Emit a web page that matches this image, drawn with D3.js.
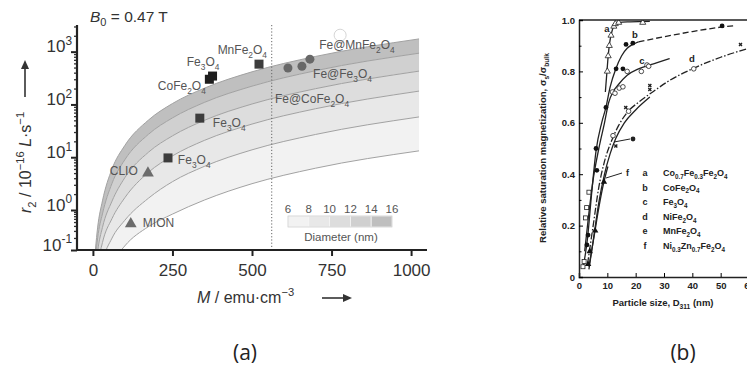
<!DOCTYPE html>
<html>
<head>
<meta charset="utf-8">
<script src="https://cdn.jsdelivr.net/npm/d3@7"></script>
<style>
  body { margin: 0; background: #fff; }
  svg { font-family: "Liberation Sans", Arial, sans-serif; }
</style>
</head>
<body>
<svg id="chart" width="747" height="372"></svg>
<script>
// ---- panel (a): r2 vs M, bands of particle diameter ----
const massM = [8, 15, 30, 60, 100, 175, 250, 350, 500, 700, 1025];
const diameters = [6, 8, 10, 12, 14, 16];
// r2 at massM (bottom curve = 6 nm)
const r2d6  = [0.0008, 0.0028, 0.0113, 0.045, 0.126, 0.386, 0.79, 1.54, 3.15, 6.2, 13.2];
const r2d8  = [0.0035, 0.0124, 0.05, 0.198, 0.55, 1.68, 3.44, 6.7, 13.8, 27, 58];
const r2d10 = [0.011, 0.038, 0.153, 0.61, 1.7, 5.2, 10.6, 20.8, 42.5, 83, 179];
const r2d12 = [0.026, 0.092, 0.366, 1.47, 4.07, 12.5, 25.4, 49.9, 102, 199, 428];
const r2d14 = [0.057, 0.2, 0.8, 3.2, 8.9, 27.3, 55.6, 109, 222, 436, 935];
const r2d16 = [0.106, 0.374, 1.49, 5.98, 16.6, 50.8, 104, 203, 415, 813, 1744];
const r2Curves = [r2d6, r2d8, r2d10, r2d12, r2d14, r2d16];
const bandColors = ['#f2f2f2', '#e8e8e8', '#dddddd', '#d0d0d0', '#bfbfbf'];

const squarePts = [
  { M: 522, r2: 580, fill: '#3c3c3c' },
  { M: 376, r2: 345, fill: '#1e1e1e' },
  { M: 366, r2: 300, fill: '#1e1e1e' },
  { M: 336, r2: 55, fill: '#3c3c3c' },
  { M: 236, r2: 9.7, fill: '#3c3c3c' }
];
const trianglePts = [{ M: 173, r2: 5.0 }, { M: 119, r2: 0.45 }];
const circlePts = [{ M: 613, r2: 490 }, { M: 657, r2: 530 }, { M: 682, r2: 720 }];
const hollowPt = { M: 777, r2: 2050 };
const dottedM = 562;

const labelsA = [
  { t: 'MnFe_{2}O_{4}', M: 392, r2: 900 },
  { t: 'Fe_{3}O_{4}', M: 295, r2: 535 },
  { t: 'CoFe_{2}O_{4}', M: 204, r2: 188 },
  { t: 'Fe_{3}O_{4}', M: 377, r2: 37 },
  { t: 'Fe_{3}O_{4}', M: 267, r2: 7.4 },
  { t: 'CLIO', M: 53, r2: 4.6 },
  { t: 'MION', M: 157, r2: 0.376 },
  { t: 'Fe@MnFe_{2}O_{4}', M: 711, r2: 1120 },
  { t: 'Fe@Fe_{3}O_{4}', M: 692, r2: 316 },
  { t: 'Fe@CoFe_{2}O_{4}', M: 572, r2: 106 }
];

const xTicksA = [0, 250, 500, 750, 1000];
const yTicksA = [0.1, 1, 10, 100, 1000];
const yExpA = ['-1', '0', '1', '2', '3'];

// ---- panel (b): relative saturation magnetization vs size ----
const curveA = [[9.3, 0.72], [9.8, 0.79], [10.3, 0.86], [10.8, 0.91], [11.5, 0.95], [12.5, 0.98], [14, 0.99], [18, 0.993], [25, 0.995]];
const curveB = [[1.5, 0.04], [3, 0.15], [4.5, 0.33], [6, 0.49], [8, 0.6], [9.5, 0.66], [11, 0.74], [13, 0.81], [15, 0.86], [17, 0.89], [19, 0.905], [21, 0.915]];
const curveBdash = [[21, 0.915], [30, 0.935], [40, 0.955], [50, 0.972], [55, 0.978]];
const curveC = [[2, 0.1], [3.5, 0.25], [5, 0.38], [7, 0.5], [9, 0.6], [10.5, 0.68], [12, 0.72], [14, 0.75], [17, 0.785], [21, 0.81], [25, 0.825], [32, 0.85]];
const curveD = [[3, 0.05], [5, 0.2], [7, 0.35], [9, 0.45], [11.5, 0.53], [14, 0.59], [17, 0.64], [21, 0.68], [26, 0.72], [32, 0.765], [40, 0.81], [50, 0.855], [60, 0.89]];
const curveE = [[3.5, 0.03], [5, 0.14], [7, 0.29], [9, 0.4], [11, 0.48], [13, 0.54], [16, 0.6], [20, 0.65], [25, 0.7]];
const curveF = [[3.5, 0.04], [5.5, 0.17], [7, 0.27], [8.8, 0.37], [10.2, 0.43]];

const openTri = [[10, 0.80], [10.3, 0.86], [10.7, 0.90], [11.3, 0.94], [12.3, 0.975], [12.8, 0.985], [14, 0.99], [22.5, 0.99]];
const filledDot = [[6, 0.5], [9.5, 0.66], [13.1, 0.81], [15.5, 0.81], [16.6, 0.905], [19, 0.91], [50.5, 0.977], [6.3, 0.415], [3.2, 0.163], [2.8, 0.125]];
const openDot = [[11.8, 0.72], [12.7, 0.715], [14.2, 0.735], [15.5, 0.74], [17, 0.80], [22, 0.80], [24, 0.825], [24.6, 0.82], [17.5, 0.645], [40.5, 0.81], [12, 0.55]];
const openSq = [[1.8, 0.06], [2.3, 0.23], [2.7, 0.27], [3.5, 0.33], [1.4, 0.04]];
const filledTri = [[3.8, 0.1], [5.7, 0.18], [8.8, 0.37], [3.2, 0.05]];
const crosses = [[16.5, 0.66], [25, 0.745], [25, 0.73], [57, 0.905], [13, 0.51]];
const curveLetters = [['a', 607, 29], ['b', 635, 35], ['c', 642, 61], ['d', 692, 59]];

const legendKeys = ['a', 'b', 'c', 'd', 'e', 'f'];
const legendNames = ['Co_{0.7}Fe_{0.3}Fe_{2}O_{4}', 'CoFe_{2}O_{4}', 'Fe_{3}O_{4}', 'NiFe_{2}O_{4}', 'MnFe_{2}O_{4}', 'Ni_{0.3}Zn_{0.7}Fe_{2}O_{4}'];

const xTicksB = [0, 10, 20, 30, 40, 50, 60];
const yTicksB = [0, 0.2, 0.4, 0.6, 0.8, 1.0];

// text with _{sub} and ^{sup}
function rich(sel, str, size) {
  const parts = str.split(/([_^]\{[^}]*\})/).filter(s => s);
  let shift = 0;
  parts.forEach(p => {
    const m = p.match(/^([_^])\{(.*)\}$/);
    if (m) {
      const d = m[1] === '_' ? size * 0.3 : -size * 0.42;
      sel.append('tspan').attr('dy', d - shift).attr('font-size', size * 0.7).text(m[2]);
      shift = d;
    } else {
      sel.append('tspan').attr('dy', -shift).text(p);
      shift = 0;
    }
  });
  return sel;
}

const svg = d3.select('#chart');

// ================= panel (a) =================
const x = d3.scaleLinear().domain([-50, 1050]).range([77, 427]);
const y = d3.scaleLog().domain([0.1, 1, 3200]).range([250, 210, 25]);

svg.append('clipPath').attr('id', 'clipA')
  .append('rect').attr('x', 78).attr('y', 25).attr('width', 349).attr('height', 224);

const plotA = svg.append('g').attr('clip-path', 'url(#clipA)');

// shaded bands between diameter curves
for (let i = 0; i < bandColors.length; i++) {
  const area = d3.area()
    .x((d, j) => x(massM[j]))
    .y0((d, j) => y(r2Curves[i][j]))
    .y1((d, j) => y(r2Curves[i + 1][j]))
    .curve(d3.curveMonotoneX);
  plotA.append('path').attr('d', area(massM)).attr('fill', bandColors[i]);
}
const line = d3.line().x((d, j) => x(massM[j])).y(d => y(d)).curve(d3.curveMonotoneX);
r2Curves.forEach(c => {
  plotA.append('path').attr('d', line(c)).attr('fill', 'none')
    .attr('stroke', '#a2a2a2').attr('stroke-width', 1);
});

// dotted vertical line
svg.append('line')
  .attr('x1', x(dottedM)).attr('x2', x(dottedM)).attr('y1', 25).attr('y2', 250)
  .attr('stroke', '#666').attr('stroke-width', 1).attr('stroke-dasharray', '1.2,2');

// markers
svg.append('circle').attr('cx', x(hollowPt.M)).attr('cy', y(hollowPt.r2)).attr('r', 6)
  .attr('fill', 'none').attr('stroke', '#d6d6d6').attr('stroke-width', 1);
svg.selectAll('.sq').data(squarePts).enter().append('rect')
  .attr('x', d => x(d.M) - 4.5).attr('y', d => y(d.r2) - 4.5)
  .attr('width', 9).attr('height', 9).attr('fill', d => d.fill);
svg.selectAll('.tri').data(trianglePts).enter().append('path')
  .attr('d', d3.symbol(d3.symbolTriangle, 60))
  .attr('transform', d => `translate(${x(d.M)},${y(d.r2)})`)
  .attr('fill', '#6c6c6c');
svg.selectAll('.dot').data(circlePts).enter().append('circle')
  .attr('cx', d => x(d.M)).attr('cy', d => y(d.r2)).attr('r', 4.5)
  .attr('fill', '#686868');

// point labels
labelsA.forEach(l => {
  rich(svg.append('text').attr('x', x(l.M)).attr('y', y(l.r2))
    .attr('font-size', 12).attr('fill', '#555'), l.t, 12);
});

// axes
const xAxisA = svg.append('g').attr('transform', 'translate(0,250)')
  .call(d3.axisBottom(x).tickValues(xTicksA).tickSize(6).tickPadding(8).tickFormat(d3.format('d')));
xAxisA.select('.domain').attr('stroke', '#222').attr('stroke-width', 2.2).attr('d', 'M77,0H427');
xAxisA.selectAll('.tick line').attr('stroke', '#222').attr('stroke-width', 2);
xAxisA.selectAll('text').attr('font-size', 17).attr('fill', '#333').attr('font-family', '"Liberation Sans", Arial');

const minorY = [];
[0.1, 1, 10, 100, 1000].forEach(b => { for (let k = 2; k <= 9; k++) if (b * k <= 3200) minorY.push(b * k); });
const yMinor = svg.append('g').attr('transform', 'translate(77,0)')
  .call(d3.axisLeft(y).tickValues(minorY).tickSize(3).tickFormat(''));
yMinor.select('.domain').remove();
yMinor.selectAll('.tick line').attr('stroke', '#333').attr('stroke-width', 1.3);

const yAxisA = svg.append('g').attr('transform', 'translate(77,0)')
  .call(d3.axisLeft(y).tickValues(yTicksA).tickSize(6).tickPadding(4).tickFormat(''));
yAxisA.select('.domain').attr('stroke', '#222').attr('stroke-width', 2.2).attr('d', 'M0,25V251');
yAxisA.selectAll('.tick line').attr('stroke', '#222').attr('stroke-width', 2);
yAxisA.selectAll('.tick').each(function (d, i) {
  const t = d3.select(this).append('text').attr('x', -5).attr('dy', '0.36em')
    .attr('text-anchor', 'end').attr('font-size', 17).attr('fill', '#333');
  rich(t, '10^{' + yExpA[i] + '}', 17);
});

// titles of panel (a)
const b0 = svg.append('text').attr('x', 90).attr('y', 22).attr('font-size', 15.5).attr('fill', '#333');
b0.append('tspan').attr('font-style', 'italic').text('B');
b0.append('tspan').attr('dy', 4).attr('font-size', 11).text('0');
b0.append('tspan').attr('dy', -4).text(' = 0.47  T');

const xt = svg.append('text').attr('x', 197).attr('y', 303).attr('font-size', 16).attr('fill', '#333');
xt.append('tspan').attr('font-style', 'italic').text('M');
rich(xt, ' / emu·cm^{−3}', 16);
svg.append('line').attr('x1', 322).attr('x2', 347).attr('y1', 298).attr('y2', 298)
  .attr('stroke', '#333').attr('stroke-width', 1.6);
svg.append('path').attr('d', 'M352,298 L343,294 L343,302 Z').attr('fill', '#333');

const yt = svg.append('text').attr('transform', 'translate(31,213) rotate(-90)')
  .attr('font-size', 16).attr('fill', '#333');
yt.append('tspan').attr('font-style', 'italic').text('r');
rich(yt, '_{2} / 10^{−16} ', 16);
yt.append('tspan').attr('dy', 0).attr('font-style', 'italic').text('L');
rich(yt, '·s^{−1}', 16);
svg.append('line').attr('x1', 25).attr('x2', 25).attr('y1', 97).attr('y2', 66)
  .attr('stroke', '#333').attr('stroke-width', 1.6);
svg.append('path').attr('d', 'M25,60 L21,69 L29,69 Z').attr('fill', '#333');

// diameter legend
const lx = d3.scaleLinear().domain([6, 16]).range([288, 392]);
for (let i = 0; i < bandColors.length; i++) {
  svg.append('rect').attr('x', lx(diameters[i])).attr('y', 216)
    .attr('width', lx(diameters[i + 1]) - lx(diameters[i])).attr('height', 11)
    .attr('fill', bandColors[i]).attr('stroke', '#f6f6f6').attr('stroke-width', 0.8);
}
svg.append('rect').attr('x', 288).attr('y', 216).attr('width', 104).attr('height', 11)
  .attr('fill', 'none').attr('stroke', '#c8c8c8').attr('stroke-width', 0.6);
diameters.forEach(dm => {
  svg.append('text').attr('x', lx(dm)).attr('y', 213).attr('text-anchor', 'middle')
    .attr('font-size', 11.5).attr('fill', '#555').text(dm);
});
svg.append('text').attr('x', 341).attr('y', 241).attr('text-anchor', 'middle')
  .attr('font-size', 11.5).attr('fill', '#555').text('Diameter (nm)');

// ================= panel (b) =================
const xb = d3.scaleLinear().domain([0, 60]).range([579, 749]);
const yb = d3.scaleLinear().domain([0, 1]).range([277, 20]);
const bold = '"Liberation Sans", Arial, sans-serif';

svg.append('clipPath').attr('id', 'clipB')
  .append('rect').attr('x', 579).attr('y', 20).attr('width', 168).attr('height', 257);
const plotB = svg.append('g').attr('clip-path', 'url(#clipB)');

const lineB = d3.line().x(d => xb(d[0])).y(d => yb(d[1])).curve(d3.curveMonotoneX);
[curveA, curveB, curveC, curveE, curveF].forEach(c => {
  plotB.append('path').attr('d', lineB(c)).attr('fill', 'none')
    .attr('stroke', '#222').attr('stroke-width', 1.3);
});
plotB.append('path').attr('d', lineB(curveBdash)).attr('fill', 'none')
  .attr('stroke', '#222').attr('stroke-width', 1.3).attr('stroke-dasharray', '6,3');
plotB.append('path').attr('d', lineB(curveD)).attr('fill', 'none')
  .attr('stroke', '#222').attr('stroke-width', 1.3).attr('stroke-dasharray', '7,2,1.5,2');

plotB.selectAll('.ot').data(openTri).enter().append('path')
  .attr('d', d3.symbol(d3.symbolTriangle, 16))
  .attr('transform', d => `translate(${xb(d[0])},${yb(d[1])})`)
  .attr('fill', '#fff').attr('stroke', '#222').attr('stroke-width', 0.8);
plotB.selectAll('.ft').data(filledTri).enter().append('path')
  .attr('d', d3.symbol(d3.symbolTriangle, 18))
  .attr('transform', d => `translate(${xb(d[0])},${yb(d[1])})`)
  .attr('fill', '#111');
plotB.selectAll('.fd').data(filledDot).enter().append('circle')
  .attr('cx', d => xb(d[0])).attr('cy', d => yb(d[1])).attr('r', 2.4).attr('fill', '#111');
plotB.selectAll('.od').data(openDot).enter().append('circle')
  .attr('cx', d => xb(d[0])).attr('cy', d => yb(d[1])).attr('r', 2.3)
  .attr('fill', '#fff').attr('stroke', '#222').attr('stroke-width', 0.8);
plotB.selectAll('.os').data(openSq).enter().append('rect')
  .attr('x', d => xb(d[0]) - 2).attr('y', d => yb(d[1]) - 2).attr('width', 4).attr('height', 4)
  .attr('fill', '#fff').attr('stroke', '#222').attr('stroke-width', 0.8);
plotB.selectAll('.cr').data(crosses).enter().append('path')
  .attr('d', d3.symbol(d3.symbolCross, 10))
  .attr('transform', d => `translate(${xb(d[0])},${yb(d[1])}) rotate(45)`)
  .attr('fill', '#222');

curveLetters.forEach(c => {
  svg.append('text').attr('x', c[1]).attr('y', c[2] + 3).attr('text-anchor', 'middle')
    .attr('font-size', 9.5).attr('font-weight', 'bold').attr('fill', '#222').text(c[0]);
});
// leader lines for e and f
svg.append('circle').attr('cx', 633).attr('cy', 139).attr('r', 2.4).attr('fill', '#222');
svg.append('line').attr('x1', 630).attr('x2', 614).attr('y1', 139).attr('y2', 142).attr('stroke', '#222');
svg.append('text').attr('x', 626).attr('y', 176).attr('font-size', 9).attr('font-weight', 'bold').attr('fill', '#222').text('f');
svg.append('line').attr('x1', 622).attr('x2', 606).attr('y1', 173).attr('y2', 178).attr('stroke', '#222');

// frame and axes
svg.append('line').attr('x1', 579).attr('x2', 747).attr('y1', 20).attr('y2', 20).attr('stroke', '#222').attr('stroke-width', 1.5);
const xAxisB = svg.append('g').attr('transform', 'translate(0,277)')
  .call(d3.axisBottom(xb).tickValues(xTicksB).tickSize(-4).tickPadding(5).tickFormat(d3.format('d')));
xAxisB.select('.domain').attr('stroke', '#222').attr('stroke-width', 1.5);
xAxisB.selectAll('text').attr('font-size', 9.5).attr('font-weight', 'bold').attr('fill', '#222').attr('font-family', bold);
const yAxisB = svg.append('g').attr('transform', 'translate(579,0)')
  .call(d3.axisLeft(yb).tickValues(yTicksB).tickSize(-4).tickPadding(4)
    .tickFormat(d => d === 0 ? '0' : d.toFixed(1)));
yAxisB.select('.domain').attr('stroke', '#222').attr('stroke-width', 1.5);
yAxisB.selectAll('text').attr('font-size', 9.5).attr('font-weight', 'bold').attr('fill', '#222').attr('font-family', bold);
const yMinorB = svg.append('g').attr('transform', 'translate(579,0)')
  .call(d3.axisLeft(yb).tickValues([0.1, 0.3, 0.5, 0.7, 0.9]).tickSize(-2.5).tickFormat(''));
yMinorB.select('.domain').remove();

// legend of panel (b)
legendKeys.forEach((k, i) => {
  const ly = 176 + i * 14.6;
  svg.append('text').attr('x', 645).attr('y', ly).attr('text-anchor', 'middle')
    .attr('font-size', 9).attr('font-weight', 'bold').attr('fill', '#222').text(k);
  rich(svg.append('text').attr('x', 663).attr('y', ly)
    .attr('font-size', 9).attr('font-weight', 'bold').attr('fill', '#222'), legendNames[i], 9);
});

// titles of panel (b)
rich(svg.append('text').attr('transform', 'translate(546,148) rotate(-90)').attr('text-anchor', 'middle')
  .attr('font-size', 9.5).attr('font-weight', 'bold').attr('fill', '#222'),
  'Relative saturation magnetization, σ_{s}/σ_{bulk}', 9.5);
rich(svg.append('text').attr('x', 663).attr('y', 306).attr('text-anchor', 'middle')
  .attr('font-size', 9.5).attr('font-weight', 'bold').attr('fill', '#222'),
  'Particle size, D_{311} (nm)', 9.5);

// panel captions
svg.append('text').attr('x', 245).attr('y', 360).attr('text-anchor', 'middle')
  .attr('font-size', 21).attr('fill', '#222').attr('font-family', '"Open Sans", sans-serif').text('(a)');
svg.append('text').attr('x', 683).attr('y', 360).attr('text-anchor', 'middle')
  .attr('font-size', 21).attr('fill', '#222').attr('font-family', '"Open Sans", sans-serif').text('(b)');
</script>
</body>
</html>
